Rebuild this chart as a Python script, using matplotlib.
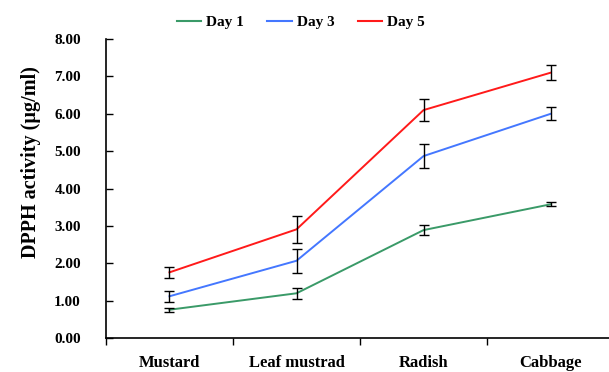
import numpy as np
import matplotlib.pyplot as plt

# values
categories = ['Mustard', 'Leaf mustrad', 'Radish', 'Cabbage']
series = ['Day 1', 'Day 3', 'Day 5']
day1 = [0.76, 1.20, 2.89, 3.58]
day3 = [1.12, 2.07, 4.87, 6.00]
day5 = [1.76, 2.91, 6.10, 7.10]
err1 = [0.05, 0.15, 0.13, 0.05]
err3 = [0.15, 0.32, 0.33, 0.17]
err5 = [0.14, 0.36, 0.29, 0.20]
colors = ['#3a9a68', '#4477ff', '#ff1a1a']

plt.rcParams['font.family'] = ['Liberation Serif', 'DejaVu Serif']
plt.rcParams['font.weight'] = 'bold'

fig = plt.figure(figsize=(6.09, 3.72), dpi=100)
ax = fig.add_axes([0.174, 0.091, 0.826, 0.804])

x = np.arange(len(categories))
for vals, errs, name, c in zip([day1, day3, day5], [err1, err3, err5], series, colors):
    ax.plot(x, vals, color=c, lw=1.4, label=name, zorder=2)
    ax.errorbar(x, vals, yerr=errs, fmt='none', ecolor='black', elinewidth=1.0,
                capsize=3.5, capthick=1.0, zorder=3)

ax.set_xlim(-0.5, 3.46)
ax.set_ylim(0, 8)
ax.set_yticks(np.arange(0, 9, 1))
ax.set_yticklabels(['%.2f' % v for v in np.arange(0, 9, 1)], fontsize=11, fontweight='bold')
ax.tick_params(axis='y', direction='in', length=5, pad=18, width=1)

# boundary ticks as major, labels at category centres as minor
ax.set_xticks([-0.5, 0.5, 1.5, 2.5])
ax.set_xticklabels([])
ax.set_xticks(x, minor=True)
ax.set_xticklabels(categories, minor=True, fontsize=12, fontweight='bold')
ax.tick_params(axis='x', which='major', direction='out', length=5, width=1)
ax.tick_params(axis='x', which='minor', length=0, pad=12)

ax.spines['top'].set_visible(False)
ax.spines['right'].set_visible(False)
ax.spines['left'].set_linewidth(1.2)
ax.spines['bottom'].set_linewidth(1.2)

ax.set_ylabel('DPPH activity (µg/ml)', fontsize=14.5, fontweight='bold')
ax.yaxis.set_label_coords(-0.13, 0.59)

leg = fig.legend(loc='center', bbox_to_anchor=(0.494, 0.94), ncol=3, frameon=False,
                 prop={'size': 11, 'weight': 'bold'}, handlelength=1.6,
                 columnspacing=1.5, handletextpad=0.35)
for line in leg.get_lines():
    line.set_linewidth(1.5)

fig.savefig('out.png', dpi=100)
